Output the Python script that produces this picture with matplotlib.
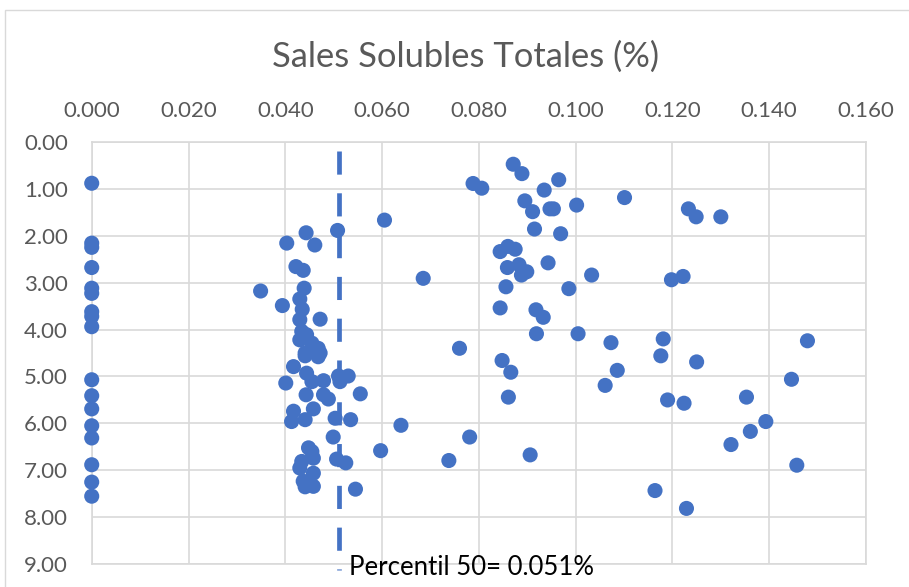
import matplotlib
matplotlib.use("Agg")
import matplotlib.pyplot as plt
from matplotlib.patches import Rectangle

plt.rcParams['font.family'] = ['Lato', 'DejaVu Sans']

title = "Sales Solubles Totales (%)"
median_value = 0.051
median_label = "Percentil 50= 0.051%"

x_ticks = [0.000, 0.020, 0.040, 0.060, 0.080, 0.100, 0.120, 0.140, 0.160]
y_ticks = [0.00, 1.00, 2.00, 3.00, 4.00, 5.00, 6.00, 7.00, 8.00, 9.00]

# Salt content (%) and depth of each sample
sales_zero = [0.0] * 17
prof_zero = [0.885, 2.16, 2.25, 2.68, 3.12, 3.23, 3.62, 3.72, 3.94,
             5.07, 5.41, 5.69, 6.05, 6.31, 6.88, 7.25, 7.55]

sales_low = [0.0443, 0.0403, 0.0461, 0.0422, 0.0437, 0.0349, 0.0439, 0.0430,
             0.0394, 0.0435, 0.0472, 0.0430, 0.0434, 0.0444, 0.0430, 0.0455,
             0.0468, 0.0441, 0.0472, 0.0441, 0.0468, 0.0417, 0.0444, 0.0401,
             0.0455, 0.0479, 0.0513, 0.0530, 0.0510, 0.0443, 0.0479, 0.0489,
             0.0417, 0.0458, 0.0413, 0.0441, 0.0503, 0.0499, 0.0448, 0.0455,
             0.0458, 0.0434, 0.0506, 0.0525, 0.0430, 0.0458, 0.0437, 0.0458,
             0.0441, 0.0508, 0.0555, 0.0535, 0.0545]
prof_low = [1.94, 2.16, 2.20, 2.66, 2.74, 3.18, 3.12, 3.35,
            3.49, 3.57, 3.78, 3.79, 4.04, 4.11, 4.22, 4.29,
            4.40, 4.50, 4.50, 4.56, 4.58, 4.79, 4.93, 5.14,
            5.11, 5.09, 5.11, 4.99, 4.99, 5.39, 5.39, 5.48,
            5.74, 5.69, 5.96, 5.92, 5.89, 6.29, 6.52, 6.60,
            6.74, 6.81, 6.76, 6.84, 6.95, 7.06, 7.23, 7.34,
            7.35, 1.89, 5.37, 5.92, 7.40]

sales_high = [0.0871, 0.0889, 0.0965, 0.0788, 0.0806, 0.0935, 0.1101, 0.0895,
              0.0911, 0.0947, 0.0954, 0.1002, 0.1233, 0.1249, 0.1300, 0.0605,
              0.0915, 0.0969, 0.0844, 0.0860, 0.0875, 0.0943, 0.0859, 0.0883,
              0.0899, 0.0888, 0.0685, 0.1033, 0.0856, 0.0986, 0.0844, 0.0918,
              0.0933, 0.0919, 0.1005, 0.1073, 0.0760, 0.0848, 0.0866, 0.0861,
              0.1061, 0.1086, 0.0639, 0.0781, 0.0597, 0.0738, 0.0906, 0.1198,
              0.1222, 0.1181, 0.1479, 0.1176, 0.1250, 0.1446, 0.1190, 0.1224,
              0.1353, 0.1393, 0.1361, 0.1321, 0.1457, 0.1164, 0.1229]
prof_high = [0.48, 0.68, 0.81, 0.89, 0.99, 1.03, 1.19, 1.26,
             1.49, 1.43, 1.43, 1.35, 1.43, 1.60, 1.60, 1.67,
             1.86, 1.96, 2.34, 2.23, 2.29, 2.58, 2.68, 2.62,
             2.77, 2.84, 2.91, 2.84, 3.09, 3.13, 3.54, 3.58,
             3.74, 4.09, 4.09, 4.28, 4.40, 4.66, 4.91, 5.44,
             5.19, 4.87, 6.04, 6.29, 6.58, 6.79, 6.67, 2.94,
             2.87, 4.20, 4.24, 4.56, 4.69, 5.06, 5.50, 5.57,
             5.44, 5.96, 6.17, 6.45, 6.89, 7.43, 7.81]

sales = sales_zero + sales_low + sales_high
prof = prof_zero + prof_low + prof_high

blue = "#4472C4"
grid_col = "#D9D9D9"
text_col = "#595959"

fig = plt.figure(figsize=(9.09, 5.87), dpi=100)
fig.patches.append(Rectangle((5 / 909, -0.01), 1.02, 1 - 10 / 587 + 0.01,
                             transform=fig.transFigure, fill=False,
                             edgecolor=grid_col, linewidth=1.0))

ax = fig.add_axes([0.1009, 0.0387, 0.8518, 0.7199])
ax.set_xlim(x_ticks[0], x_ticks[-1])
ax.set_ylim(y_ticks[-1], y_ticks[0])
ax.xaxis.tick_top()
ax.set_xticks(x_ticks)
ax.set_yticks(y_ticks)
ax.set_xticklabels([f"{v:.3f}" for v in x_ticks])
ax.set_yticklabels([f"{v:.2f}" for v in y_ticks])
ax.tick_params(axis='both', length=0, labelsize=16, labelcolor=text_col)
ax.tick_params(axis='x', pad=15)
ax.tick_params(axis='y', pad=17)
ax.grid(True, color=grid_col, linewidth=1.2)
ax.set_axisbelow(True)
for s in ax.spines.values():
    s.set_color(grid_col)
    s.set_linewidth(1.2)

ax.scatter(sales, prof, s=118, color=blue, edgecolors='none', zorder=3,
           clip_on=False)

ax.plot([median_value, median_value], [0.19, 9.12], color=blue,
        linewidth=3.4, dashes=(4.9, 3.95), solid_capstyle='butt',
        dash_capstyle='butt', clip_on=False, zorder=2)
ax.text(0.0532, 9.07, median_label, fontsize=18.5, color="black",
        va='center', ha='left', clip_on=False)

fig.text(0.512, 1 - 57 / 587, title, fontsize=24.8, color=text_col,
         ha='center', va='center')

fig.savefig("out.png", dpi=100)
